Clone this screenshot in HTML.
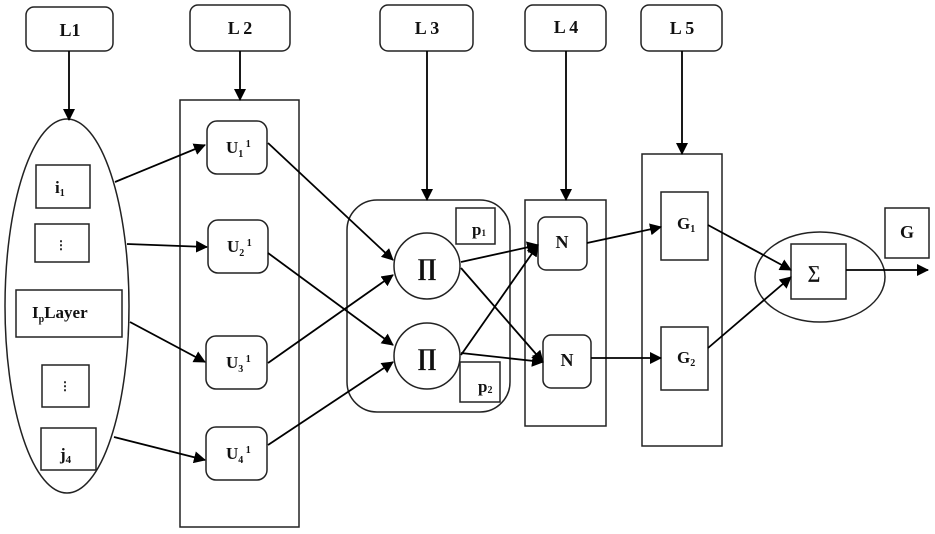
<!DOCTYPE html>
<html><head><style>body{margin:0;background:#fff}svg{display:block}text{font-family:"Liberation Serif",serif;font-weight:bold;fill:#111}</style></head><body>
<svg width="935" height="534" viewBox="0 0 935 534" xmlns="http://www.w3.org/2000/svg">
<defs><marker id="a" markerWidth="12" markerHeight="12" refX="11" refY="6" orient="auto" markerUnits="userSpaceOnUse"><path d="M0,0 L12,6 L0,12 z" fill="#000"/></marker></defs>
<g fill="none" stroke="#222" stroke-width="1.5">
<rect x="26" y="7" width="87" height="44" rx="8"/>
<rect x="190" y="5" width="100" height="46" rx="8"/>
<rect x="380" y="5" width="93" height="46" rx="8"/>
<rect x="525" y="5" width="81" height="46" rx="8"/>
<rect x="641" y="5" width="81" height="46" rx="8"/>
<ellipse cx="67" cy="306" rx="62" ry="187"/>
<rect x="36" y="165" width="54" height="43"/>
<rect x="35" y="224" width="54" height="38"/>
<rect x="16" y="290" width="106" height="47"/>
<rect x="42" y="365" width="47" height="42"/>
<rect x="41" y="428" width="55" height="42"/>
<rect x="180" y="100" width="119" height="427"/>
<rect x="207" y="121" width="60" height="53" rx="10"/>
<rect x="208" y="220" width="60" height="53" rx="10"/>
<rect x="206" y="336" width="61" height="53" rx="10"/>
<rect x="206" y="427" width="61" height="53" rx="10"/>
<rect x="347" y="200" width="163" height="212" rx="30"/>
<circle cx="427" cy="266" r="33"/>
<circle cx="427" cy="356" r="33"/>
<rect x="456" y="208" width="39" height="36"/>
<rect x="460" y="362" width="40" height="40"/>
<rect x="525" y="200" width="81" height="226"/>
<rect x="538" y="217" width="49" height="53" rx="8"/>
<rect x="543" y="335" width="48" height="53" rx="8"/>
<rect x="642" y="154" width="80" height="292"/>
<rect x="661" y="192" width="47" height="68"/>
<rect x="661" y="327" width="47" height="63"/>
<ellipse cx="820" cy="277" rx="65" ry="45"/>
<rect x="791" y="244" width="55" height="55"/>
<rect x="885" y="208" width="44" height="50"/>
</g>
<g stroke="#000" stroke-width="1.8" marker-end="url(#a)">
<line x1="69" y1="51" x2="69" y2="120"/>
<line x1="240" y1="51" x2="240" y2="100"/>
<line x1="427" y1="51" x2="427" y2="200"/>
<line x1="566" y1="51" x2="566" y2="200"/>
<line x1="682" y1="51" x2="682" y2="154"/>
<line x1="115" y1="182" x2="205" y2="145"/>
<line x1="127" y1="244" x2="207" y2="247"/>
<line x1="130" y1="322" x2="205" y2="362"/>
<line x1="114" y1="437" x2="205" y2="460"/>
<line x1="268" y1="143" x2="393" y2="260"/>
<line x1="268" y1="253" x2="393" y2="345"/>
<line x1="268" y1="363" x2="393" y2="275"/>
<line x1="268" y1="445" x2="393" y2="362"/>
<line x1="461" y1="262" x2="538" y2="245"/>
<line x1="461" y1="268" x2="543" y2="362"/>
<line x1="461" y1="355" x2="538" y2="245"/>
<line x1="461" y1="353" x2="543" y2="362"/>
<line x1="587" y1="243" x2="661" y2="227"/>
<line x1="591" y1="358" x2="661" y2="358"/>
<line x1="708" y1="225" x2="791" y2="270"/>
<line x1="708" y1="348" x2="791" y2="277"/>
<line x1="846" y1="270" x2="928" y2="270"/>
</g>
<g font-size="18" text-anchor="middle">
<text x="70" y="36">L1</text>
<text x="240" y="34">L 2</text>
<text x="427" y="34">L 3</text>
<text x="566" y="33">L 4</text>
<text x="682" y="34">L 5</text>
<text x="907" y="238">G</text>
<text x="562" y="248">N</text>
<text x="567" y="366">N</text>
</g>
<g font-size="17">
<text x="55" y="193">i<tspan font-size="10" dy="3">1</tspan></text>
<text x="60" y="460">j<tspan font-size="11" dy="3">4</tspan></text>
<text x="32" y="318" font-weight="normal">I<tspan font-size="10" dy="4">p</tspan><tspan dy="-4" font-weight="bold">Layer</tspan></text>
<text x="226" y="153">U<tspan font-size="10" dy="4">1</tspan><tspan font-size="10" dy="-10"> 1</tspan></text>
<text x="227" y="252">U<tspan font-size="10" dy="4">2</tspan><tspan font-size="10" dy="-10"> 1</tspan></text>
<text x="226" y="368">U<tspan font-size="10" dy="4">3</tspan><tspan font-size="10" dy="-10"> 1</tspan></text>
<text x="226" y="459">U<tspan font-size="10" dy="4">4</tspan><tspan font-size="10" dy="-10"> 1</tspan></text>
<text x="472" y="235">p<tspan font-size="9" dy="1">1</tspan></text>
<text x="478" y="392">p<tspan font-size="10" dy="1">2</tspan></text>
<text x="677" y="229" font-weight="normal">G<tspan font-size="10" dy="3">1</tspan></text>
<text x="677" y="363" font-weight="normal">G<tspan font-size="10" dy="3">2</tspan></text>
</g>
<g text-anchor="middle">
<text x="427" y="275" font-size="24" font-weight="normal" fill="#333">∏</text>
<text x="427" y="365" font-size="24" font-weight="normal" fill="#333">∏</text>
<text x="814" y="278" font-size="18" font-weight="normal" fill="#444">∑</text>
<text x="61" y="249" font-size="12" font-weight="normal" fill="#888">⋮</text>
<text x="65" y="390" font-size="12" font-weight="normal" fill="#888">⋮</text>
</g>
</svg>
</body></html>
